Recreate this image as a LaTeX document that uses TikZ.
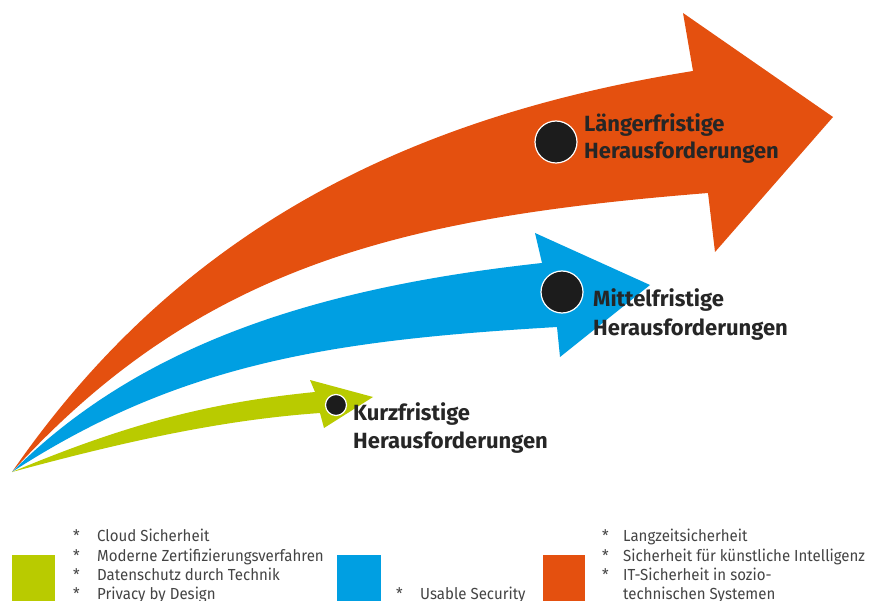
\documentclass[tikz,border=0pt]{standalone}
\usepackage{fontspec}
\setmainfont{Fira Sans}
\newfontfamily\legendfont[FakeStretch=0.94]{Fira Sans}
\definecolor{orangeA}{HTML}{E4500F}
\definecolor{blueA}{HTML}{009FE2}
\definecolor{greenA}{HTML}{B9CB00}
\definecolor{dotgray}{HTML}{1C1C1C}
\definecolor{txt}{HTML}{262626}
\definecolor{legtxt}{HTML}{444444}
\begin{document}
\begin{tikzpicture}[x=1pt,y=-1pt,
  dot/.style={circle,fill=dotgray,draw=white,line width=1.2pt,inner sep=0pt,minimum size=#1},
  heading/.style={anchor=base west,inner sep=0pt,font=\fontsize{22}{22}\selectfont\bfseries,text=txt},
  legend/.style={anchor=base west,inner sep=0pt,font=\legendfont\fontsize{16}{16}\selectfont,text=legtxt}]

\fill[white] (0,0) rectangle (880,601);
\useasboundingbox (0,0) rectangle (880,601);

% long-term arrow
\fill[orangeA] (12,472) .. controls (172,240) and (393,119) .. (693,71)
  -- (683,13) -- (833,117) -- (715,252) -- (708,193)
  .. controls (408,217) and (202,263) .. (12,472) -- cycle;

% mid-term arrow
\fill[blueA] (12,472) .. controls (142,342) and (322,287) .. (542,263)
  -- (535,233) -- (650,285) -- (560,357) -- (557,327)
  .. controls (337,340) and (182,361.5) .. (12,472) -- cycle;

% short-term arrow
\fill[greenA] (12,472) .. controls (132,421.6) and (215,402) .. (315,392)
  -- (310,380) -- (373,397) -- (324,428) -- (320,413)
  .. controls (220,420) and (122,442.3) .. (12,472) -- cycle;

% markers
\node[dot=42pt] (dl) at (556,142) {};
\node[dot=42pt] (dm) at (562,292) {};
\node[dot=21pt] (dk) at (336,405) {};

% arrow labels
\node[heading] (lt1) at (584,132) {Längerfristige};
\node[heading] (lt2) at (584,159) {Herausforderungen};
\node[heading] (mt1) at (593,307) {Mittelfristige};
\node[heading] (mt2) at (593,335) {Herausforderungen};
\node[heading] (kt1) at (353,420) {Kurzfristige};
\node[heading] (kt2) at (353,448) {Herausforderungen};

% legend swatches
\fill[greenA] (12,555) rectangle (55,601);
\fill[blueA] (337,555) rectangle (381,601);
\fill[orangeA] (543,555) rectangle (585,601);

% legend: short term
\node[legend] (ga) at (73,541.5) {*};
\node[legend] (gat) at (97,541.5) {Cloud Sicherheit};
\node[legend] (gb) at (73,561) {*};
\node[legend] (gbt) at (97,561) {Moderne Zertifizierungsverfahren};
\node[legend] (gc) at (73,580.5) {*};
\node[legend] (gct) at (97,580.5) {Datenschutz durch Technik};
\node[legend] (gd) at (73,599.5) {*};
\node[legend] (gdt) at (97,599.5) {Privacy by Design};

% legend: mid term
\node[legend] (ba) at (396,599.5) {*};
\node[legend] (bat) at (420,599.5) {Usable Security};

% legend: long term
\node[legend] (oa) at (602,541.5) {*};
\node[legend] (oat) at (623,541.5) {Langzeitsicherheit};
\node[legend] (ob) at (602,561) {*};
\node[legend] (obt) at (623,561) {Sicherheit für künstliche Intelligenz};
\node[legend] (oc) at (602,580.5) {*};
\node[legend] (oct) at (623,580.5) {IT-Sicherheit in sozio-};
\node[legend] (odt) at (623,599.5) {technischen Systemen};
\end{tikzpicture}
\end{document}
